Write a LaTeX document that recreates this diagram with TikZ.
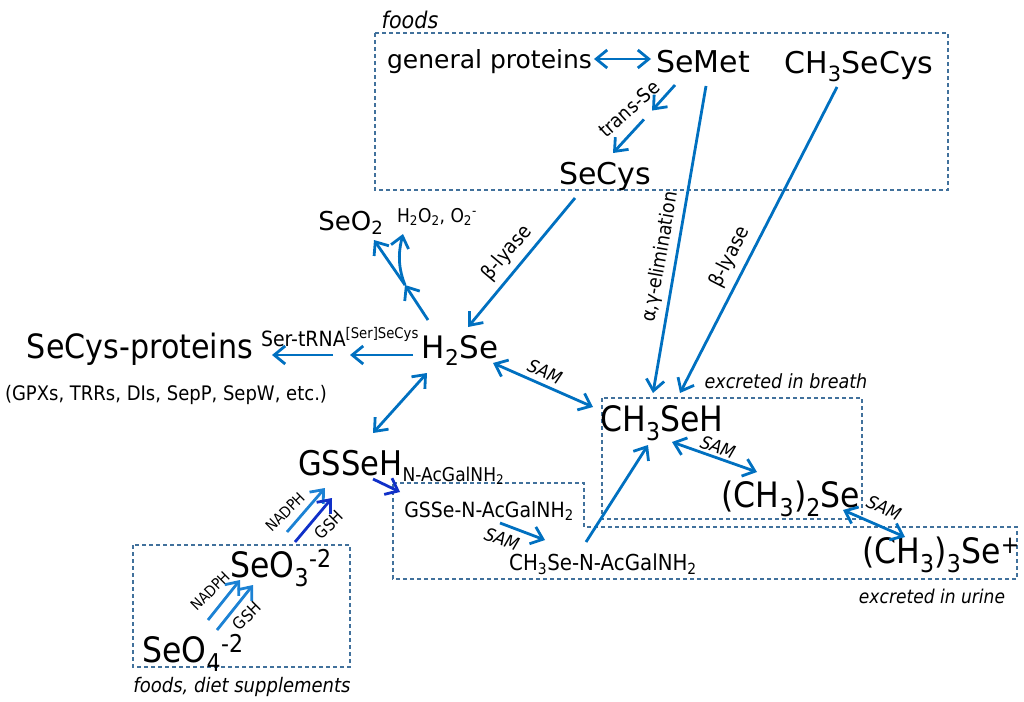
\documentclass[tikz,border=0pt]{standalone}
\usepackage{fontspec}
\setmainfont{DejaVu Sans}
\newfontfamily\narrow{DejaVu Sans}[FakeStretch=0.9]
\usetikzlibrary{arrows.meta}
\definecolor{arrblue}{RGB}{0,112,192}
\definecolor{litblue}{RGB}{28,130,212}
\definecolor{drkblue}{RGB}{16,48,200}
\definecolor{boxblue}{RGB}{65,113,156}
\tikzset{
  lbl/.style={inner sep=0pt, anchor=base, font=\fontsize{#1pt}{#1pt}\selectfont},
  nlbl/.style={inner sep=0pt, anchor=base, font=\narrow\fontsize{#1pt}{#1pt}\selectfont},
  ilbl/.style={inner sep=0pt, anchor=base, font=\narrow\itshape\fontsize{#1pt}{#1pt}\selectfont},
  rxn/.style={-{Straight Barb[length=11pt,width=18pt]}, line width=2.8pt, draw=arrblue},
  rev/.style={{Straight Barb[length=11pt,width=18pt]}-{Straight Barb[length=11pt,width=18pt]}, line width=2.8pt, draw=arrblue},
  grp/.style={draw=boxblue, line width=1.1pt, dash pattern=on 4pt off 3pt},
}
\begin{document}
\begin{tikzpicture}[x=1pt,y=-1pt]
\useasboundingbox (0,0) rectangle (1024,701);
%% groups
\draw[grp] (375,33) rectangle (948,190);
\draw[grp] (602,398) rectangle (862,519);
\draw[grp] (393,483) -- (584,483) -- (584,527) -- (1017,527) -- (1017,579) -- (393,579) -- cycle;
\draw[grp] (133,545) rectangle (350,667);
%% compounds
\node[ilbl=23] (foods) at (410,29) {foods};
\node[lbl=25] (genprot) at (489.5,68) {general proteins};
\node[lbl=30] (semet) at (703,72) {SeMet};
\node[lbl=30] (mesecys) at (859,74) {CH\textsubscript{3}SeCys};
\node[lbl=30] (secys) at (605,184) {SeCys};
\node[lbl=26] (seo2) at (351,230) {SeO\textsubscript{2}};
\node[nlbl=19] (hoo) at (437,222) {H\textsubscript{2}O\textsubscript{2}, O\textsubscript{2}\textsuperscript{-}};
\node[lbl=31] (h2se) at (460,358) {H\textsubscript{2}Se};
\node[nlbl=21] (trna) at (340,346) {Ser-tRNA\textsuperscript{[Ser]SeCys}};
\node[nlbl=33.5] (secysp) at (140,358) {SeCys-proteins};
\node[nlbl=20] (gpx) at (166,400) {(GPXs, TRRs, DIs, SepP, SepW, etc.)};
\node[nlbl=34,anchor=base west] (gsseh) at (298,475) {GSSeH\raisebox{-6pt}{\fontsize{19pt}{19pt}\selectfont N-AcGalNH\textsubscript{2}}};
\node[nlbl=21] (gsse) at (489,517) {GSSe-N-AcGalNH\textsubscript{2}};
\node[nlbl=22] (mesen) at (603,570) {CH\textsubscript{3}Se-N-AcGalNH\textsubscript{2}};
\node[nlbl=35] (ch3seh) at (662,431) {CH\textsubscript{3}SeH};
\node[nlbl=35] (dmse) at (791,507) {(CH\textsubscript{3})\textsubscript{2}Se};
\node[nlbl=35] (tmse) at (941,563) {(CH\textsubscript{3})\textsubscript{3}Se\textsuperscript{+}};
\node[ilbl=19.5] (breath) at (786,388) {excreted in breath};
\node[ilbl=19] (urine) at (932,603) {excreted in urine};
\node[nlbl=35] (seo3) at (281,577) {SeO\textsubscript{3}\textsuperscript{-2}};
\node[nlbl=35] (seo4) at (193,662) {SeO\textsubscript{4}\textsuperscript{-2}};
\node[ilbl=20] (diet) at (242,692) {foods, diet supplements};
%% reactions
\coordinate (tse) at (648,115);
\coordinate (ox) at (405,285);
\draw[rev] ([shift={(104.5,-9)}]genprot.base) -- ([shift={(-52,-13)}]semet.base);
\draw[rxn,shorten >=6pt] ([shift={(-28,13)}]semet.base) -- (tse);
\draw[rxn,shorten <=6pt] (tse) -- ([shift={(8,-31)}]secys.base);
\draw[rxn] ([shift={(3,14)}]semet.base) -- ([shift={(-9,-38)}]ch3seh.base);
\draw[rxn] ([shift={(-22,13)}]mesecys.base) -- ([shift={(18,-38)}]ch3seh.base);
\draw[rxn] ([shift={(-30,14)}]secys.base) -- ([shift={(8,-31)}]h2se.base);
\draw[rxn] ([shift={(-32,-38)}]h2se.base) -- (ox);
\draw[rxn] (ox) -- ([shift={(23,10)}]seo2.base);
\draw[rxn] (ox) .. controls +(-9,-22) and +(-3,12) .. ([shift={(-34,12)}]hoo.base);
\draw[rxn] ([shift={(-47,-3)}]h2se.base) -- ([shift={(10,9)}]trna.base);
\draw[rxn] ([shift={(-7,9)}]trna.base) -- ([shift={(132,-3)}]secysp.base);
\draw[rev] ([shift={(-33,15)}]h2se.base) -- ([shift={(75,-42)}]gsseh.base west);
\draw[rev] ([shift={(33,5)}]h2se.base) -- ([shift={(-69,-24)}]ch3seh.base);
\draw[rxn,draw=drkblue] ([shift={(75,4)}]gsseh.base west) -- ([shift={(-89,-25)}]gsse.base);
\draw[rxn] ([shift={(11,6)}]gsse.base) -- ([shift={(-58,-30)}]mesen.base);
\draw[rxn] ([shift={(-17,-28)}]mesen.base) -- ([shift={(-14,14)}]ch3seh.base);
\draw[rev] ([shift={(10,11)}]ch3seh.base) -- ([shift={(-34,-35)}]dmse.base);
\draw[rev] ([shift={(52,3)}]dmse.base) -- ([shift={(-36,-26)}]tmse.base);
\draw[rxn,draw=litblue] ([shift={(15,-42)}]seo4.base) -- ([shift={(-41,3)}]seo3.base);
\draw[rxn,draw=litblue] ([shift={(24,-32)}]seo4.base) -- ([shift={(-28,8)}]seo3.base);
\draw[rxn,draw=litblue] ([shift={(6,-45)}]seo3.base) -- ([shift={(27,13)}]gsseh.base west);
\draw[rxn,draw=drkblue] ([shift={(14,-35)}]seo3.base) -- ([shift={(34,23)}]gsseh.base west);
%% enzyme labels
\node[nlbl=19.5,anchor=center,rotate=42] (tselbl) at (629,109) {trans-Se};
\node[nlbl=20,anchor=center,rotate=50] (blyase) at (507,253) {β-lyase};
\node[nlbl=19.5,anchor=center,rotate=80] (elim) at (661,257) {α,γ-elimination};
\node[nlbl=20,anchor=center,rotate=63] (blyasetwo) at (730,257) {β-lyase};
\node[ilbl=18,anchor=center,rotate=-24] (samone) at (545,372) {SAM};
\node[ilbl=18,anchor=center,rotate=-20] (samtwo) at (718,447) {SAM};
\node[ilbl=18,anchor=center,rotate=-25] (samthree) at (884,508) {SAM};
\node[ilbl=18,anchor=center,rotate=-20] (samfour) at (502,539) {SAM};
\node[nlbl=15,anchor=center,rotate=45] (nadphone) at (210,591) {NADPH};
\node[nlbl=16.5,anchor=center,rotate=45] (gshone) at (247,616) {GSH};
\node[nlbl=15,anchor=center,rotate=45] (nadphtwo) at (285,512) {NADPH};
\node[nlbl=16.5,anchor=center,rotate=45] (gshtwo) at (329,525) {GSH};
\end{tikzpicture}
\end{document}
